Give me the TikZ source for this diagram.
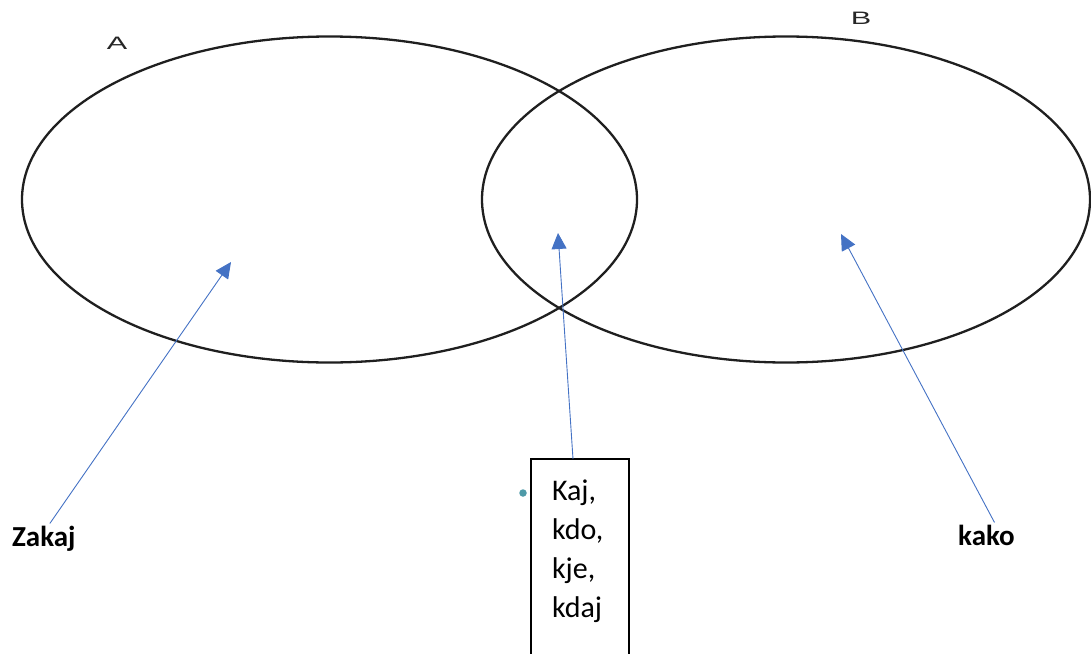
\documentclass[tikz,border=0pt]{standalone}
\usepackage{fontspec}
\setmainfont{Carlito}
\newfontfamily\labelfont{Liberation Sans}
\usetikzlibrary{shapes.geometric,arrows.meta,positioning}
\definecolor{arrowblue}{HTML}{4472C4}
\definecolor{dotteal}{HTML}{4E9AA8}

\begin{document}
\begin{tikzpicture}[x=1pt,y=-1pt,
  set/.style={ellipse,draw=black!88,line width=2.3pt,inner sep=0pt},
  pointer/.style={draw=arrowblue,line width=0.9pt,-{Triangle[length=16pt,width=15pt]}},
  word/.style={font=\bfseries\fontsize{29}{39}\selectfont,inner sep=2pt},
  setname/.style={font=\labelfont\fontsize{18}{18}\selectfont,text=black!85}]
  \useasboundingbox (0,0) rectangle (1091,653);
  \node[set,minimum width=615pt,minimum height=326pt] (setA) at (329.5,199.5) {};
  \node[set,minimum width=608pt,minimum height=326pt] (setB) at (786,199.5) {};
  \node[setname] (nameA) at (117,43) {\scalebox{1.7}[1]{A}};
  \node[setname] (nameB) at (861,18) {\scalebox{1.7}[1]{B}};
  \coordinate (inA) at (231,262);
  \coordinate (inAB) at (558,233);
  \coordinate (inB) at (841,234);
  \node[word,anchor=base west] (zakaj) at (10,546) {Zakaj};
  \node[word,anchor=base west] (kako) at (956,545) {kako};
  \node[draw,line width=1.3pt,outer sep=0pt,anchor=north west,inner xsep=21pt,inner ysep=0pt,
        text width=56pt,align=left,text height=41pt,text depth=170pt,
        font=\fontsize{30}{39}\selectfont] (whbox) at (531,459) {Kaj,\\kdo,\\kje,\\kdaj};
  \node[circle,fill=dotteal,inner sep=0pt,minimum size=7.5pt] (dot) at (523,493) {};
  \draw[pointer] ([xshift=6pt]zakaj.north) -- (inA);
  \draw[pointer] ([xshift=-7pt]whbox.north) -- (inAB);
  \draw[pointer] ([xshift=8pt]kako.north) -- (inB);
\end{tikzpicture}
\end{document}
